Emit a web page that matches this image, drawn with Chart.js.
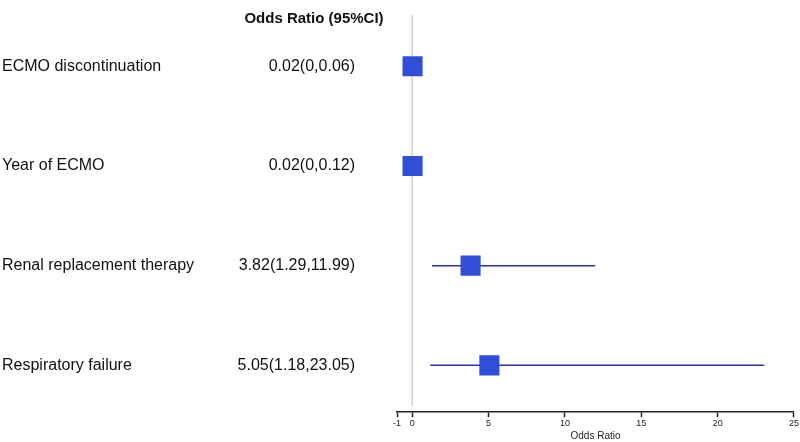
<!DOCTYPE html>
<html>
<head>
<meta charset="utf-8">
<script src="https://cdn.jsdelivr.net/npm/chart.js@4.4.0/dist/chart.umd.min.js"></script>
<style>
  html, body { margin: 0; padding: 0; background: #fff; }
  #wrap { width: 800px; height: 442px; }
</style>
</head>
<body>
<div id="wrap"><canvas id="forest"></canvas></div>
<script>
// === Data forest plot ===
const variables = ["ECMO discontinuation", "Year of ECMO", "Renal replacement therapy", "Respiratory failure"];
const oddsRatio = [0.02, 0.02, 3.82, 5.05];
const ciLow = [0, 0, 1.29, 1.18];
const ciHigh = [0.06, 0.12, 11.99, 23.05];
const orLabels = ["0.02(0,0.06)", "0.02(0,0.12)", "3.82(1.29,11.99)", "5.05(1.18,23.05)"];
const xTicks = [-1, 0, 5, 10, 15, 20, 25];

const points = oddsRatio.map((v, i) => ({ x: v, y: i + 1 }));

// plugin buat garis CI, garis nol dan teks di kiri
const forestPlugin = {
  id: "forestPlugin",
  beforeDatasetsDraw(chart) {
    const c = chart.ctx;
    const xs = chart.scales.x;
    const ys = chart.scales.y;
    // garis referensi di 0
    c.save();
    c.strokeStyle = "#d0d0d0";
    c.lineWidth = 1.5;
    const x0 = xs.getPixelForValue(0);
    c.beginPath();
    c.moveTo(x0, 15);
    c.lineTo(x0, ys.bottom - 6);
    c.stroke();
    // garis interval kepercayaan
    c.strokeStyle = "#3030b0";
    c.lineWidth = 1.5;
    variables.forEach((_, i) => {
      const y = ys.getPixelForValue(i + 1);
      c.beginPath();
      c.moveTo(xs.getPixelForValue(ciLow[i]), y);
      c.lineTo(xs.getPixelForValue(ciHigh[i]), y);
      c.stroke();
    });
    c.restore();
  },
  afterDraw(chart) {
    const c = chart.ctx;
    const ys = chart.scales.y;
    c.save();
    c.fillStyle = "#111";
    c.textBaseline = "middle";
    c.font = "bold 15px 'Liberation Sans', Arial, sans-serif";
    c.textAlign = "center";
    c.fillText("Odds Ratio (95%CI)", 314, 19);
    c.font = "16px 'Liberation Sans', Arial, sans-serif";
    variables.forEach((name, i) => {
      const y = ys.getPixelForValue(i + 1);
      c.textAlign = "left";
      c.fillText(name, 2, y);
      c.textAlign = "right";
      c.fillText(orLabels[i], 355, y);
    });
    c.restore();
  }
};

new Chart(document.getElementById("forest"), {
  type: "scatter",
  data: {
    datasets: [{
      data: points,
      pointStyle: "rect",
      pointRadius: 14.2,
      pointHoverRadius: 14.2,
      backgroundColor: "#2f4fd9",
      borderColor: "#2f4fd9",
      borderWidth: 0
    }]
  },
  options: {
    responsive: true,
    maintainAspectRatio: false,
    animation: false,
    layout: { autoPadding: false, padding: { left: 397, right: 6, top: 0, bottom: 0 } },
    plugins: {
      legend: { display: false },
      tooltip: { enabled: false }
    },
    scales: {
      x: {
        type: "linear",
        min: -1,
        max: 25,
        afterBuildTicks: (scale) => { scale.ticks = xTicks.map(v => ({ value: v })); },
        grid: {
          drawOnChartArea: false,
          drawTicks: true,
          tickLength: 5,
          tickColor: "#222",
          tickWidth: 1.5
        },
        border: { display: true, color: "#222", width: 1.5 },
        ticks: {
          color: "#222",
          padding: 1,
          autoSkip: false,
          maxRotation: 0,
          font: { size: 9, family: "'Liberation Sans', Arial, sans-serif" }
        },
        title: {
          display: true,
          text: "Odds Ratio",
          color: "#222",
          padding: { top: 0, bottom: 0 },
          font: { size: 10, family: "'Liberation Sans', Arial, sans-serif" }
        }
      },
      y: {
        type: "linear",
        reverse: true,
        min: 0.335,
        max: 4.47,
        display: false
      }
    }
  },
  plugins: [forestPlugin]
});
</script>
</body>
</html>
